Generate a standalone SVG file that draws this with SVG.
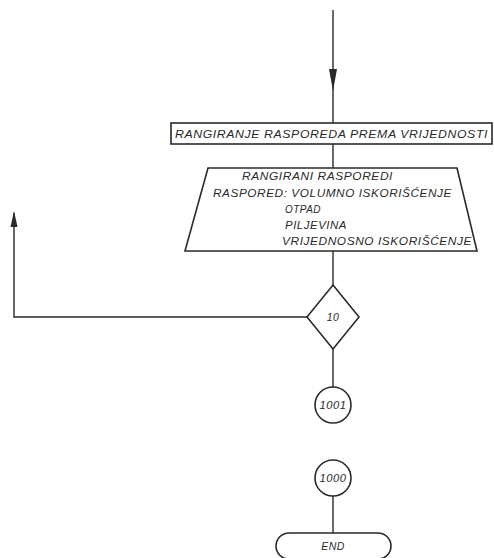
<svg xmlns="http://www.w3.org/2000/svg" width="494" height="558" viewBox="0 0 494 558">
<style>
.s{fill:none;stroke:#2a2a2a;stroke-width:1.4}
.b{fill:#fff;stroke:#2a2a2a;stroke-width:1.6}
.a{fill:#2a2a2a}
.t{font-family:"Liberation Sans",Arial,sans-serif;font-style:italic;font-size:10.5px;fill:#2a2a2a;letter-spacing:0.5px}
.c{text-anchor:middle}
</style>
<rect width="494" height="558" fill="#fff"/>
<g id="connectors">
<path class="s" d="M333,10 V123"/>
<path class="a" d="M329,69 L337,69 L333,91 Z"/>
<path class="s" d="M333,144 V168"/>
<path class="s" d="M333,250 V285"/>
<path class="s" d="M307,317 H14 V213"/>
<path class="a" d="M10.5,227 L14,211 L17.5,227 Z"/>
<path class="s" d="M333,349 V387"/>
<path class="s" d="M333,496 V533"/>
</g>
<g id="rank">
<rect class="b" x="171" y="123" width="321" height="21"/>
<text class="t" x="175" y="138" textLength="313" lengthAdjust="spacingAndGlyphs">RANGIRANJE RASPOREDA PREMA VRIJEDNOSTI</text>
</g>
<g id="output">
<path class="b" d="M208,168 H457 L477,251 H185 Z"/>
<text class="t" x="242" y="180" textLength="151" lengthAdjust="spacingAndGlyphs">RANGIRANI RASPOREDI</text>
<text class="t" x="213" y="197" textLength="239" lengthAdjust="spacingAndGlyphs">RASPORED: VOLUMNO ISKORIŠĆENJE</text>
<text class="t" x="285" y="213" textLength="36" lengthAdjust="spacingAndGlyphs">OTPAD</text>
<text class="t" x="285" y="229" textLength="62" lengthAdjust="spacingAndGlyphs">PILJEVINA</text>
<text class="t" x="282" y="245" textLength="190" lengthAdjust="spacingAndGlyphs">VRIJEDNOSNO ISKORIŠĆENJE</text>
</g>
<g id="decision10">
<path class="b" d="M333,285 L359,317 L333,349 L307,317 Z"/>
<text class="t c" x="333" y="321">10</text>
</g>
<g id="conn1001">
<circle class="b" cx="333" cy="405" r="18"/>
<text class="t c" x="333" y="409" letter-spacing="0" textLength="27" lengthAdjust="spacingAndGlyphs">1001</text>
</g>
<g id="conn1000">
<circle class="b" cx="333" cy="478" r="18"/>
<text class="t c" x="333" y="482" letter-spacing="0" textLength="27" lengthAdjust="spacingAndGlyphs">1000</text>
</g>
<g id="end">
<rect class="b" x="276" y="533" width="115" height="26" rx="13"/>
<text class="t c" x="333" y="550" font-size="11" letter-spacing="2">END</text>
</g>
</svg>
